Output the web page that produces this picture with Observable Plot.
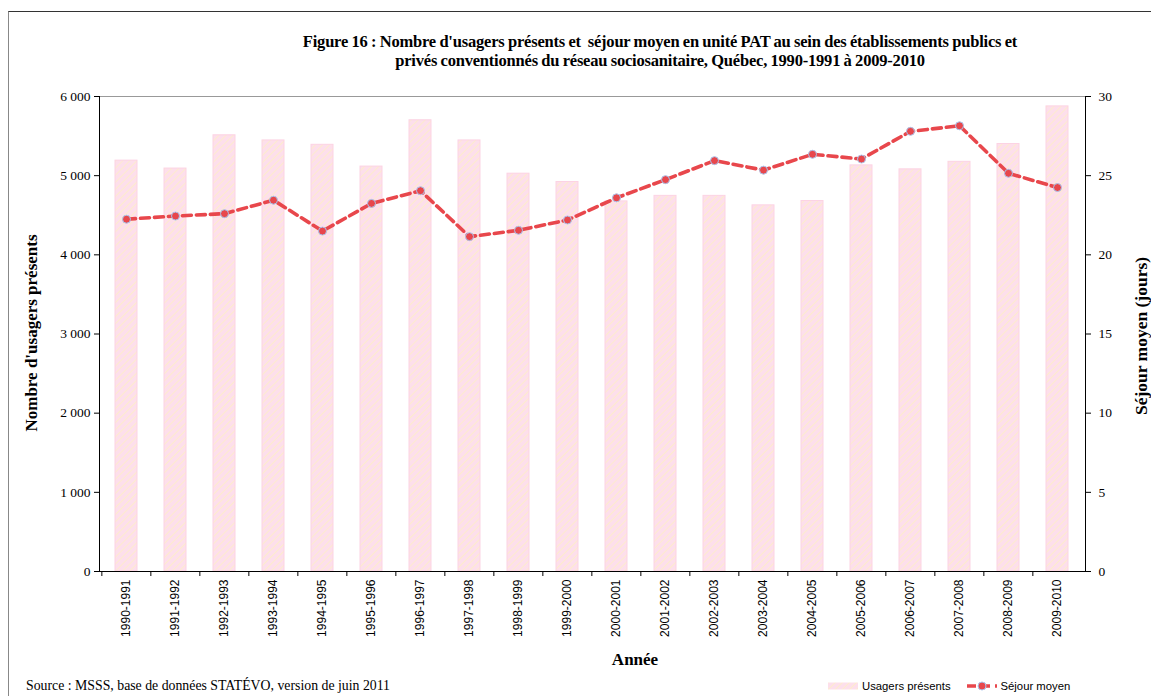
<!DOCTYPE html>
<html><head><meta charset="utf-8">
<script src="https://cdn.jsdelivr.net/npm/d3@7"></script>
<script src="https://cdn.jsdelivr.net/npm/@observablehq/plot@0.6"></script>
<style>
body{margin:0;background:#fff;}
#wrap{position:relative;width:1151px;height:696px;overflow:hidden;background:#fff;}
#wrap svg.plot{position:absolute;left:0;top:0;}
.frame{position:absolute;left:8px;top:11px;width:1200px;height:720px;border-top:1px solid #333;border-left:1px solid #888;}
.title{position:absolute;left:0;width:1320px;top:32px;text-align:center;font:bold 16.5px "Liberation Serif",serif;line-height:19px;color:#000;letter-spacing:-0.2px;word-spacing:-0.5px;}
.ytitle{position:absolute;font:bold 17px "Liberation Serif",serif;color:#000;white-space:nowrap;transform-origin:center;}
.xtitle{position:absolute;left:635px;top:650px;transform:translateX(-50%);font:bold 17px "Liberation Serif",serif;}
.source{position:absolute;left:26px;top:678px;font:13.8px "Liberation Serif",serif;white-space:nowrap;}
.legend{position:absolute;left:828px;top:680px;font:11.3px "Liberation Sans",Arial,sans-serif;display:flex;align-items:center;white-space:nowrap;}
.legend svg{display:block;}
</style></head><body>
<div id="wrap">
<div class="frame"></div>
</div>
<script>
const years = ["1990-1991","1991-1992","1992-1993","1993-1994","1994-1995","1995-1996","1996-1997","1997-1998","1998-1999","1999-2000","2000-2001","2001-2002","2002-2003","2003-2004","2004-2005","2005-2006","2006-2007","2007-2008","2008-2009","2009-2010"];
const usagers = [5190, 5090, 5510, 5445, 5390, 5115, 5700, 5445, 5025, 4920, 4675, 4745, 4745, 4625, 4680, 5130, 5080, 5175, 5400, 5875];
const sejour = [22.25, 22.45, 22.6, 23.45, 21.5, 23.25, 24.05, 21.15, 21.55, 22.2, 23.6, 24.75, 25.95, 25.35, 26.35, 26.05, 27.8, 28.15, 25.15, 24.25];
const leftTicks = [0, 1000, 2000, 3000, 4000, 5000, 6000];
const rightTicks = [0, 5, 10, 15, 20, 25, 30];
const leftMax = 6000, rightMax = 30;
const ratio = leftMax / rightMax;

const title1 = "Figure 16 : Nombre d'usagers présents et  séjour moyen en unité PAT au sein des établissements publics et";
const title2 = "privés conventionnés du réseau sociosanitaire, Québec, 1990-1991 à 2009-2010";
const yLeftTitle = "Nombre d'usagers présents";
const yRightTitle = "Séjour moyen (jours)";
const xTitle = "Année";
const sourceText = "Source : MSSS, base de données STATÉVO, version de juin 2011";
const legendBars = "Usagers présents";
const legendLine = "Séjour moyen";

const table = years.map((y, i) => ({year: y, users: usagers[i], stay: sejour[i], stayScaled: sejour[i] * ratio}));

const W = 1151, H = 696, mL = 99, mR = 66, mT = 96, mB = 125;
const halfStep = (W - mL - mR) / years.length / 2;
const fmt = d => d3.format(",")(d).replace(/,/g, " ");
const lineColor = "#e8474c";
const serif = "Liberation Serif, serif";

const plot = Plot.plot({
  width: W, height: H,
  marginLeft: mL, marginRight: mR, marginTop: mT, marginBottom: mB,
  style: {fontFamily: serif, fontSize: "13px", color: "#000", background: "transparent"},
  x: {type: "band", domain: years, paddingInner: 0.55, paddingOuter: 0.275, label: null},
  y: {domain: [0, leftMax], label: null},
  marks: [
    Plot.barY(table, {x: "year", y: "users", fill: "url(#hatch)", stroke: "#fcd3e3", strokeWidth: 1}),
    Plot.frame({anchor: "top", stroke: "#999"}),
    Plot.axisY({anchor: "left", ticks: leftTicks, tickFormat: fmt, tickSize: 5, tickPadding: 4, label: null, fontSize: 13.5}),
    Plot.axisY({anchor: "right", ticks: rightTicks.map(v => v * ratio), tickFormat: d => String(d / ratio), tickSize: 5, tickPadding: 8, label: null, fontSize: 13.5}),
    Plot.frame({anchor: "left", stroke: "#000"}),
    Plot.frame({anchor: "right", stroke: "#000"}),
    Plot.axisX({anchor: "bottom", tickSize: 0, tickRotate: -90, tickPadding: 8, fontFamily: "Liberation Sans, Arial, sans-serif", fontSize: 12, label: null}),
    Plot.axisX({anchor: "bottom", ticks: years, tickFormat: () => "", tickSize: 5, dx: -halfStep, label: null}),
    Plot.frame({anchor: "bottom", stroke: "#000"}),
    Plot.line(table, {x: "year", y: "stayScaled", stroke: lineColor, strokeWidth: 3.6, strokeDasharray: "9,5"}),
    Plot.dot(table, {x: "year", y: "stayScaled", r: 4, fill: lineColor, stroke: "#a9c6ee", strokeWidth: 1})
  ]
});
plot.classList.add("plot");

// hatch pattern definition for bars
const ns = "http://www.w3.org/2000/svg";
const defs = document.createElementNS(ns, "defs");
defs.innerHTML = `<pattern id="hatch" patternUnits="userSpaceOnUse" width="5" height="5" patternTransform="rotate(45)">
  <rect width="5" height="5" fill="#fddfeb"></rect>
  <line x1="0" y1="0" x2="0" y2="5" stroke="#fdf0c6" stroke-width="1.6"></line>
</pattern>`;
plot.insertBefore(defs, plot.firstChild);

const wrap = document.getElementById("wrap");
wrap.appendChild(plot);

function addDiv(cls, text) {
  const d = document.createElement("div");
  d.className = cls;
  if (text !== null) d.textContent = text;
  wrap.appendChild(d);
  return d;
}
const t = addDiv("title", null);
t.appendChild(document.createTextNode(title1));
t.appendChild(document.createElement("br"));
t.appendChild(document.createTextNode(title2));
t.style.whiteSpace = "pre";

const yl = addDiv("ytitle", yLeftTitle);
yl.style.left = "32px"; yl.style.top = "333px";
yl.style.transform = "translate(-50%,-50%) rotate(-90deg)";
const yr = addDiv("ytitle", yRightTitle);
yr.style.left = "1141px"; yr.style.top = "336px";
yr.style.fontSize = "17.5px";
yr.style.transform = "translate(-50%,-50%) rotate(-90deg)";

addDiv("xtitle", xTitle);
addDiv("source", sourceText);

const lg = addDiv("legend", null);
const sw1 = document.createElementNS(ns, "svg");
sw1.setAttribute("width", 31); sw1.setAttribute("height", 8);
sw1.innerHTML = `<defs><pattern id="hatchLeg" patternUnits="userSpaceOnUse" width="5" height="5" patternTransform="rotate(45)"><rect width="5" height="5" fill="#fddfeb"></rect><line x1="0" y1="0" x2="0" y2="5" stroke="#fdf0c6" stroke-width="1.6"></line></pattern></defs><rect x="0" y="0.5" width="30" height="7" fill="url(#hatchLeg)"></rect>`;
lg.appendChild(sw1);
const s1 = document.createElement("span"); s1.textContent = legendBars; s1.style.margin = "0 16px 0 3px"; lg.appendChild(s1);
const sw2 = document.createElementNS(ns, "svg");
sw2.setAttribute("width", 31); sw2.setAttribute("height", 10);
sw2.innerHTML = `<line x1="0" y1="5" x2="30" y2="5" stroke="${lineColor}" stroke-width="3.5" stroke-dasharray="9,5"></line><circle cx="15" cy="5" r="4" fill="${lineColor}" stroke="#a9c6ee" stroke-width="1"></circle>`;
lg.appendChild(sw2);
const s2 = document.createElement("span"); s2.textContent = legendLine; s2.style.marginLeft = "3px"; lg.appendChild(s2);
</script>
</body></html>
